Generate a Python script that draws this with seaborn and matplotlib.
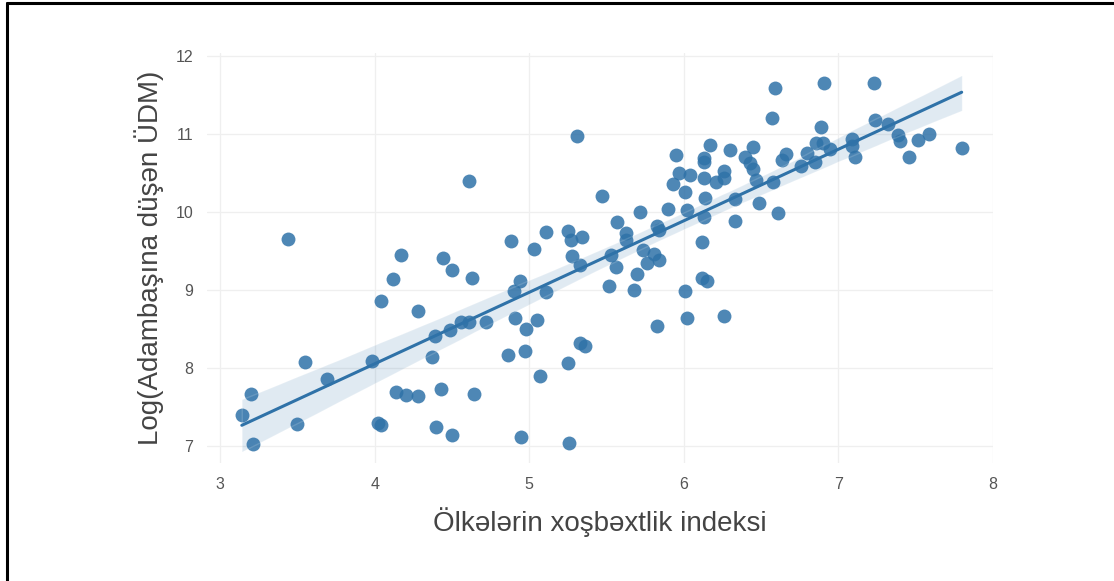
import matplotlib
matplotlib.use("Agg")
import matplotlib.pyplot as plt
from matplotlib.lines import Line2D
import pandas as pd
import seaborn as sns

# ------------------------ DATA ------------------------

xosbextlik = [
    3.14, 3.20, 3.21, 3.44, 3.50, 3.55, 3.69, 3.98, 4.02, 4.04,
    4.04, 4.12, 4.14, 4.17, 4.20, 4.28, 4.28, 4.37, 4.39, 4.40,
    4.43, 4.44, 4.49, 4.50, 4.50, 4.56, 4.61, 4.61, 4.63, 4.64,
    4.72, 4.86, 4.88, 4.90, 4.91, 4.94, 4.95, 4.97, 4.98, 5.03,
    5.05, 5.07, 5.11, 5.11, 5.25, 5.25, 5.26, 5.27, 5.28, 5.31,
    5.33, 5.33, 5.34, 5.36, 5.47, 5.52, 5.53, 5.56, 5.57, 5.63,
    5.63, 5.68, 5.70, 5.72, 5.74, 5.76, 5.81, 5.83, 5.84, 5.84,
    5.83, 5.90, 5.93, 5.95, 5.97, 6.01, 6.01, 6.02, 6.02, 6.04,
    6.12, 6.12, 6.15, 6.13, 6.14, 6.13, 6.13, 6.13, 6.17, 6.21,
    6.26, 6.26, 6.26, 6.30, 6.33, 6.33, 6.40, 6.43, 6.45, 6.45,
    6.47, 6.49, 6.57, 6.59, 6.58, 6.61, 6.64, 6.66, 6.76, 6.80,
    6.85, 6.86, 6.90, 6.89, 6.91, 6.95, 7.09, 7.09, 7.11, 7.23,
    7.24, 7.32, 7.39, 7.40, 7.46, 7.52, 7.59, 7.80,
]

log_udm = [
    7.39, 7.66, 7.02, 9.65, 7.28, 8.07, 7.86, 8.09, 7.30, 7.27,
    8.86, 9.14, 7.69, 9.45, 7.65, 7.64, 8.73, 8.14, 8.41, 7.24,
    7.73, 9.41, 8.49, 9.26, 7.14, 8.59, 8.59, 10.40, 9.15, 7.66,
    8.59, 8.17, 9.63, 8.98, 8.64, 9.12, 7.11, 8.22, 8.50, 9.53,
    8.62, 7.90, 8.97, 9.74, 9.75, 8.06, 7.04, 9.64, 9.43, 10.97,
    9.32, 8.32, 9.68, 8.28, 10.20, 9.05, 9.45, 9.30, 9.87, 9.73,
    9.64, 9.00, 9.21, 10.00, 9.51, 9.34, 9.46, 9.82, 9.77, 9.38,
    8.54, 10.04, 10.36, 10.73, 10.50, 10.25, 8.99, 10.02, 8.64, 10.47,
    9.62, 9.15, 9.12, 9.93, 10.18, 10.43, 10.69, 10.64, 10.86, 10.39,
    10.52, 10.43, 8.66, 10.79, 9.88, 10.16, 10.70, 10.63, 10.83, 10.55,
    10.41, 10.11, 11.21, 11.59, 10.39, 9.99, 10.66, 10.74, 10.59, 10.76,
    10.64, 10.89, 10.88, 11.09, 11.65, 10.81, 10.94, 10.84, 10.71, 11.66,
    11.18, 11.13, 10.99, 10.91, 10.70, 10.92, 11.00, 10.82,
]

x_ticks = [3, 4, 5, 6, 7, 8]
y_ticks = [7, 8, 9, 10, 11, 12]

x_label = "Ölkələrin xoşbəxtlik indeksi"
y_label = "Log(Adambaşına düşən ÜDM)"

df = pd.DataFrame({"xosbextlik": xosbextlik, "log_udm": log_udm})

# ------------------------ STYLE ------------------------

sns.set_style("whitegrid")
plt.rcParams["font.family"] = ["Liberation Sans", "DejaVu Sans"]

fig = plt.figure(figsize=(11.14, 5.81), dpi=100)
ax = fig.add_axes([0.186, 0.203, 0.705, 0.706])

sns.regplot(
    data=df,
    x="xosbextlik",
    y="log_udm",
    ax=ax,
    color="#2f72a8",
    seed=3,
    scatter_kws={"s": 100, "alpha": 0.85, "linewidths": 0},
    line_kws={"linewidth": 2.2},
)

ax.set_xlim(2.916, 8.0)
ax.set_ylim(6.78, 12.04)
ax.set_xticks(x_ticks)
ax.set_yticks(y_ticks)

ax.grid(True, color="#efefef", linewidth=0.9)
for side in ax.spines.values():
    side.set_visible(False)

ax.tick_params(axis="both", labelsize=11.5, labelcolor="#555555", length=0)
ax.tick_params(axis="x", pad=10)
ax.tick_params(axis="y", pad=10)

ax.set_xlabel(x_label, fontsize=20, color="#444444", labelpad=11)
ax.set_ylabel(y_label, fontsize=20, color="#444444", labelpad=8)

# cerceve (yalniz sol ve yuxari)
fig.add_artist(Line2D([0.0063, 0.0063], [0.0, 0.995], transform=fig.transFigure,
                      color="black", linewidth=2.2))
fig.add_artist(Line2D([0.0063, 1.0], [0.995, 0.995], transform=fig.transFigure,
                      color="black", linewidth=2.2))

fig.savefig("out.png", dpi=100)
